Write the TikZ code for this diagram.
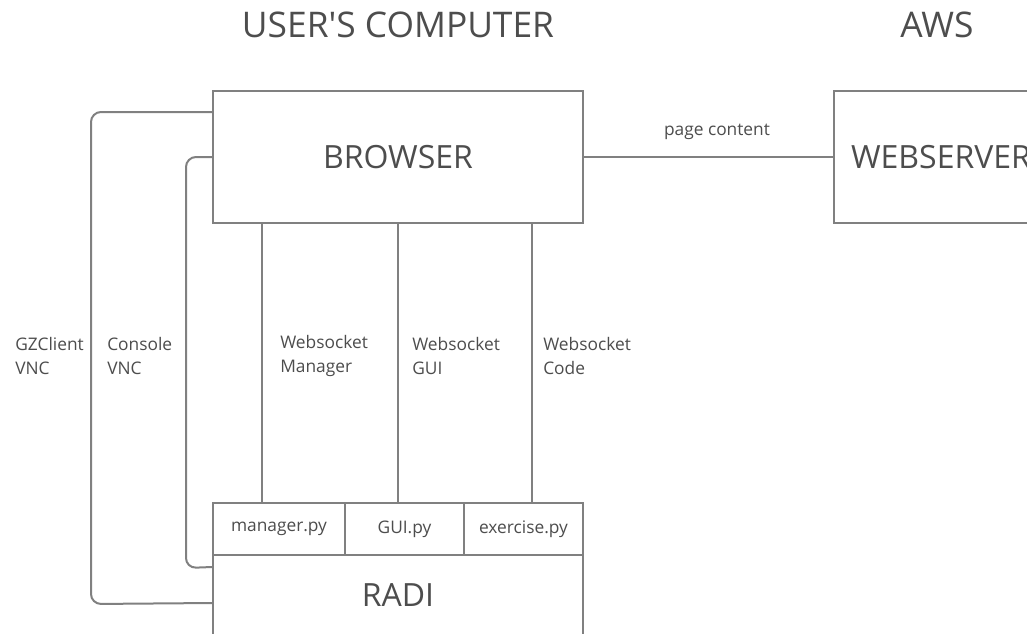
\documentclass[tikz,border=0pt]{standalone}
\usepackage{fontspec}
\newfontfamily\osans{Open Sans}
\definecolor{linec}{HTML}{808080}
\definecolor{textc}{HTML}{4D4D4D}
\begin{document}
\begin{tikzpicture}[x=0.75pt,y=-0.75pt,
  box/.style={draw=linec,line width=1.5pt,rectangle,inner sep=0pt,text=textc,font=\osans\fontsize{24}{28}\selectfont},
  subbox/.style={draw=linec,line width=1.5pt,rectangle,inner sep=0pt,text=textc,font=\osans\fontsize{13}{18}\selectfont,minimum height=39pt},
  conn/.style={draw=linec,line width=1.5pt},
  lbl/.style={text=textc,font=\osans\fontsize{13}{18.4}\selectfont,align=left,inner sep=0pt},
  title/.style={text=textc,font=\osans\fontsize{26.5}{30}\selectfont,inner sep=0pt}]
\clip (0,0) rectangle (1027,633);
\fill[white] (0,0) rectangle (1027,633);
\node[title] (t1) at (398,25) {USER'S COMPUTER};
\node[title] (t2) at (937,25) {AWS};
\node[box,minimum width=277.5pt,minimum height=99pt] (browser) at (398,157) {BROWSER};
\node[box,minimum width=160.5pt,minimum height=99pt] (web) at (941,157) {WEBSERVER};
\node[box,minimum width=277.5pt,minimum height=60pt] (radi) at (398,595) {RADI};
\node[subbox,minimum width=99pt] (mgr) at (279,529) {manager.py};
\node[subbox,minimum width=89.25pt] (gui) at (404.5,529) {GUI.py};
\node[subbox,minimum width=89.25pt] (ex) at (523.5,529) {exercise.py};
% websockets
\draw[conn] ([xshift=-12.75pt]mgr.north) -- ([xshift=-12.75pt]mgr.north |- browser.south);
\draw[conn] ([xshift=-4.875pt]gui.north) -- ([xshift=-4.875pt]gui.north |- browser.south);
\draw[conn] ([xshift=6.375pt]ex.north) -- ([xshift=6.375pt]ex.north |- browser.south);
% loops
\draw[conn,rounded corners=7.5pt] ([yshift=-16.5pt]browser.north west) -| (91,604) -- ([yshift=-36.75pt]radi.north west);
\draw[conn,rounded corners=7.5pt] (browser.west) -| (186,568) -- ([yshift=-9.75pt]radi.north west);
% page content
\draw[conn] (browser.east) -- (web.west);
\node[lbl] (pc) at (717,132) {page content};
% labels
\node[lbl,anchor=west] (l1) at (15,356) {GZClient\\VNC};
\node[lbl,anchor=west] (l2) at (107,356) {Console\\VNC};
\node[lbl,anchor=west] (l3) at (280,356) {Websocket\\Manager};
\node[lbl,anchor=west] (l4) at (412,356) {Websocket\\GUI};
\node[lbl,anchor=west] (l5) at (543,356) {Websocket\\Code};
\end{tikzpicture}
\end{document}
